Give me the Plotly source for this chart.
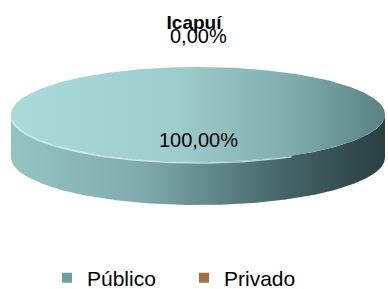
import numpy as np
import plotly.graph_objects as go

# ---- data ----
title = "Icapuí"
categories = ["Público", "Privado"]
values = [100.0, 0.0]
labels = ["100,00%", "0,00%"]

# ---- geometry / style ----
W, H = 388, 289
cx, cy, rx, ry, depth = 198, 114.5, 187, 47.5, 43
top_scales = [
    [[0, "#aadada"], [0.45, "#9dcccd"], [0.75, "#80acad"], [1, "#5a8284"]],
    [[0, "#c89a68"], [1, "#8a5a2e"]],
]
side_scales = [
    [[0, "#93c4c4"], [0.35, "#80abac"], [0.5, "#688f90"], [0.72, "#46666a"], [1, "#2a3e40"]],
    [[0, "#a67444"], [1, "#5e3a1a"]],
]
legend_colors = ["#6e9fa1", "#a0703f"]
FONT = "Liberation Sans, Arial, sans-serif"

fig = go.Figure()
total = sum(values)
start = 90.0  # degrees, clockwise from top
annots = []
for i, (cat, v, lab) in enumerate(zip(categories, values, labels)):
    span = v / total * 360.0
    a0, a1 = start, start - span
    if span > 0:
        t = np.radians(np.linspace(a0, a1, 361))
        tf = t[np.sin(t) <= 0] if span < 360 else np.radians(np.linspace(180, 360, 181))
        if len(tf) > 1:
            xs = cx + rx * np.cos(tf)
            ys = cy - ry * np.sin(tf)
            px = np.concatenate([xs, xs[::-1]])
            py = np.concatenate([ys, ys[::-1] + depth])
            fig.add_trace(go.Scatter(x=px, y=py, mode="lines", fill="toself",
                                     line=dict(width=0), fillgradient=dict(type="horizontal", colorscale=side_scales[i]),
                                     hoverinfo="skip", showlegend=False))
        xs = cx + rx * np.cos(t)
        ys = cy - ry * np.sin(t)
        if span < 360:
            xs = np.concatenate([[cx], xs, [cx]])
            ys = np.concatenate([[cy], ys, [cy]])
        fig.add_trace(go.Scatter(x=xs, y=ys, mode="lines", fill="toself",
                                 line=dict(width=0), fillgradient=dict(type="horizontal", colorscale=top_scales[i]),
                                 hoverinfo="skip", showlegend=False))
        th = np.radians(np.linspace(185, 300, 120))
        fig.add_trace(go.Scatter(x=cx + rx * np.cos(th), y=cy - ry * np.sin(th) + 1, mode="lines",
                                 line=dict(width=1.5, color="rgba(225,248,248,0.75)"),
                                 hoverinfo="skip", showlegend=False))
    mid = np.radians((a0 + a1) / 2.0)
    big = v / total >= 0.05
    f = 0.54 if big else 1.65
    annots.append(dict(x=cx + rx * f * np.cos(mid) if big else cx,
                       y=cy - ry * f * np.sin(mid), text=lab, showarrow=False,
                       xref="x", yref="y", font=dict(family=FONT, size=20, color="#000000")))
    start = a1

for cat, col in zip(categories, legend_colors):
    fig.add_trace(go.Scatter(x=[None], y=[None], mode="markers", name=cat,
                             marker=dict(symbol="square", size=10, color=col)))

fig.update_layout(
    width=W, height=H, margin=dict(l=0, r=0, t=0, b=0, autoexpand=False),
    paper_bgcolor="white", plot_bgcolor="white",
    xaxis=dict(range=[0, W], visible=False, fixedrange=True),
    yaxis=dict(range=[H, 0], visible=False, fixedrange=True),
    title=dict(text="<b>" + title + "</b>", x=0.5, xanchor="center", y=1 - 22 / H, yanchor="middle",
               font=dict(family=FONT, size=19, color="#000000")),
    annotations=annots,
    showlegend=True,
    legend=dict(orientation="h", x=47 / W, xanchor="left", y=1 - 278 / H, yanchor="middle",
                font=dict(family=FONT, size=21, color="#000000"), itemwidth=30,
                entrywidth=92, entrywidthmode="pixels",
                bgcolor="rgba(0,0,0,0)"),
)
fig.write_html("out.html", config={"displayModeBar": False},
               post_script="document.body.style.margin='0';")
